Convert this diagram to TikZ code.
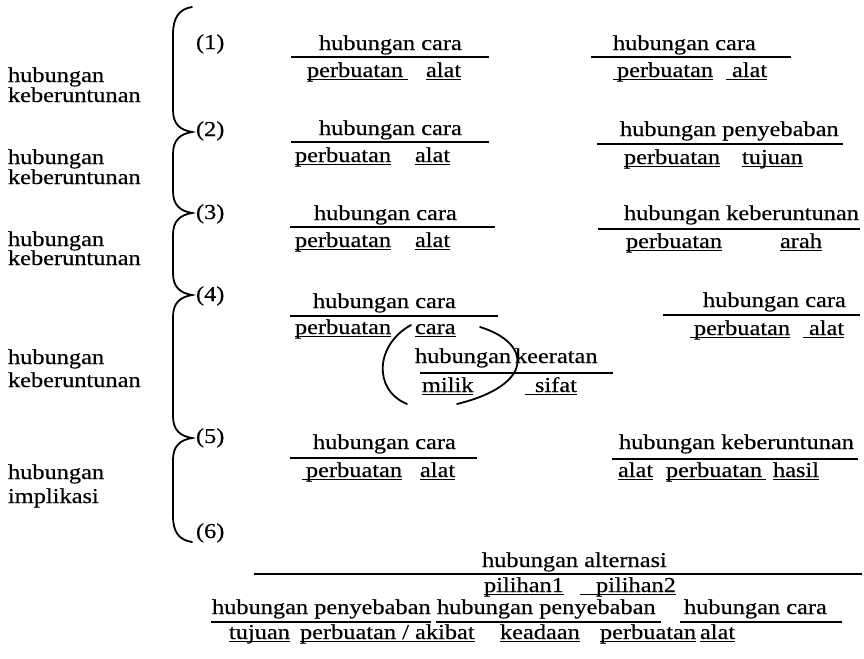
\documentclass[tikz,border=0pt]{standalone}
\usepackage{fontspec}
\setmainfont{Liberation Serif}[FakeStretch=1.15,FakeBold=0.4]
\newcommand\ulw[3]{\draw[ulx] ([xshift=#2pt,yshift=-1.25pt]#1.base west) -- ([xshift=#3pt,yshift=-1.25pt]#1.base east);}
\begin{document}
\begin{tikzpicture}[x=0.5pt,y=-0.5pt,
  every node/.style={inner sep=0pt, outer sep=0pt, anchor=base west, font=\fontsize{10.6}{13}\selectfont},
  rulex/.style={line width=1pt},
  ulx/.style={line width=0.75pt},
  bracex/.style={line width=0.9pt, line cap=round}]
\useasboundingbox (0,0) rectangle (864,659);

% left labels
\node (l1a) at (8,82) {hubungan};
\node (l1b) at (8,102) {keberuntunan};
\node (l2a) at (8,164) {hubungan};
\node (l2b) at (8,184) {keberuntunan};
\node (l3a) at (8,246) {hubungan};
\node (l3b) at (8,265) {keberuntunan};
\node (l4a) at (8,364) {hubungan};
\node (l4b) at (8,387) {keberuntunan};
\node (l5a) at (8,479) {hubungan};
\node (l5b) at (8,503) {implikasi};

% brace
\draw[bracex] (192,7) .. controls (179,9) and (173,18) .. (173,34) -- (173,110)
  .. controls (173,124) and (180,130) .. (192,132) .. controls (180,134) and (173,140) .. (173,154) -- (173,191)
  .. controls (173,205) and (180,211) .. (192,213) .. controls (180,215) and (173,221) .. (173,235) -- (173,273)
  .. controls (173,287) and (180,293) .. (192,295) .. controls (180,297) and (173,303) .. (173,317) -- (173,416)
  .. controls (173,430) and (180,436) .. (192,438) .. controls (180,440) and (173,446) .. (173,460) -- (173,516)
  .. controls (173,532) and (179,540) .. (192,542);

% numbers
\node (n1) at (196,49) {(1)};
\node (n2) at (196,136) {(2)};
\node (n3) at (196,219) {(3)};
\node (n4) at (196,301) {(4)};
\node (n5) at (196,443) {(5)};
\node (n6) at (196,538) {(6)};

% middle column
\node (m1h) at (319,50) {hubungan cara};
\draw[rulex] (291,57) -- (489,57);
\node (m1p) at (307,77) {perbuatan}; \ulw{m1p}{0}{2.5}
\node (m1a) at (426,77) {alat}; \ulw{m1a}{0}{0}

\node (m2h) at (319,135) {hubungan cara};
\draw[rulex] (291,142) -- (489,142);
\node (m2p) at (295,162) {perbuatan}; \ulw{m2p}{0}{0}
\node (m2a) at (415,162) {alat}; \ulw{m2a}{0}{0}

\node (m3h) at (314,220) {hubungan cara};
\draw[rulex] (290,227) -- (495,227);
\node (m3p) at (295,247) {perbuatan}; \ulw{m3p}{0}{0}
\node (m3a) at (415,247) {alat}; \ulw{m3a}{0}{0}

\node (m4h) at (313,308) {hubungan cara};
\draw[rulex] (290,316) -- (498,316);
\node (m4p) at (295,334) {perbuatan}; \ulw{m4p}{0}{0}
\node (m4c) at (415,334) {cara}; \ulw{m4c}{0}{0}
\node (m4i) at (415,363) {hubungan};
\node (m4k) at (515,363) {keeratan};
\draw[rulex] (420,373) -- (613,373);
\node (m4m) at (422,392) {milik}; \ulw{m4m}{0}{0}
\node (m4s) at (535,392) {sifat}; \ulw{m4s}{-5}{0}
\draw[bracex] (411,325) .. controls (375,345) and (373,390) .. (407,404);
\draw[bracex] (480,327) .. controls (532,343) and (535,385) .. (457,404);

\node (m5h) at (313,449) {hubungan cara};
\draw[rulex] (290,458) -- (477,458);
\node (m5p) at (306,477) {perbuatan}; \ulw{m5p}{-2}{0}
\node (m5a) at (420,477) {alat}; \ulw{m5a}{0}{0}

% right column
\node (r1h) at (613,50) {hubungan cara};
\draw[rulex] (591,57) -- (791,57);
\node (r1p) at (617,77) {perbuatan}; \ulw{r1p}{-2}{0}
\node (r1a) at (732,77) {alat}; \ulw{r1a}{-3}{0}

\node (r2h) at (620,136) {hubungan penyebaban};
\draw[rulex] (597,144) -- (843,144);
\node (r2p) at (624,164) {perbuatan}; \ulw{r2p}{0}{0}
\node (r2t) at (742,164) {tujuan}; \ulw{r2t}{0}{0}

\node (r3h) at (624,220) {hubungan keberuntunan};
\draw[rulex] (598,229) -- (860,229);
\node (r3p) at (626,248) {perbuatan}; \ulw{r3p}{0}{0}
\node (r3r) at (780,248) {arah}; \ulw{r3r}{0}{0}

\node (r4h) at (703,307) {hubungan cara};
\draw[rulex] (663,315) -- (860,315);
\node (r4p) at (694,335) {perbuatan}; \ulw{r4p}{-2}{0}
\node (r4a) at (809,335) {alat}; \ulw{r4a}{-3}{0}

\node (r5h) at (619,449) {hubungan keberuntunan};
\draw[rulex] (612,459) -- (858,459);
\node (r5a) at (618,477) {alat}; \ulw{r5a}{0}{0}
\node (r5p) at (666,477) {perbuatan}; \ulw{r5p}{0}{2}
\node (r5s) at (773,477) {hasil}; \ulw{r5s}{0}{0}

% bottom section
\node (b0) at (482,567) {hubungan alternasi};
\draw[rulex] (254,574) -- (862,574);
\node (b1) at (484,592) {pilihan1}; \ulw{b1}{0}{0}
\node (b2) at (596,592) {pilihan2}; \ulw{b2}{-8}{0}

\node (c1) at (212,614) {hubungan penyebaban};
\draw[rulex] (211,622) -- (431,622);
\node (c2) at (437,614) {hubungan penyebaban};
\draw[rulex] (436,622) -- (661,622);
\node (c3) at (684,614) {hubungan cara};
\draw[rulex] (680,622) -- (842,622);

\node (d1) at (229,639) {tujuan}; \ulw{d1}{0}{0}
\node (d2) at (300,639) {perbuatan / akibat}; \ulw{d2}{0}{0}
\node (d3) at (500,639) {keadaan}; \ulw{d3}{0}{0}
\node (d4) at (600,639) {perbuatan}; \ulw{d4}{0}{0}
\node (d5) at (700,639) {alat}; \ulw{d5}{0}{0}
\end{tikzpicture}
\end{document}
